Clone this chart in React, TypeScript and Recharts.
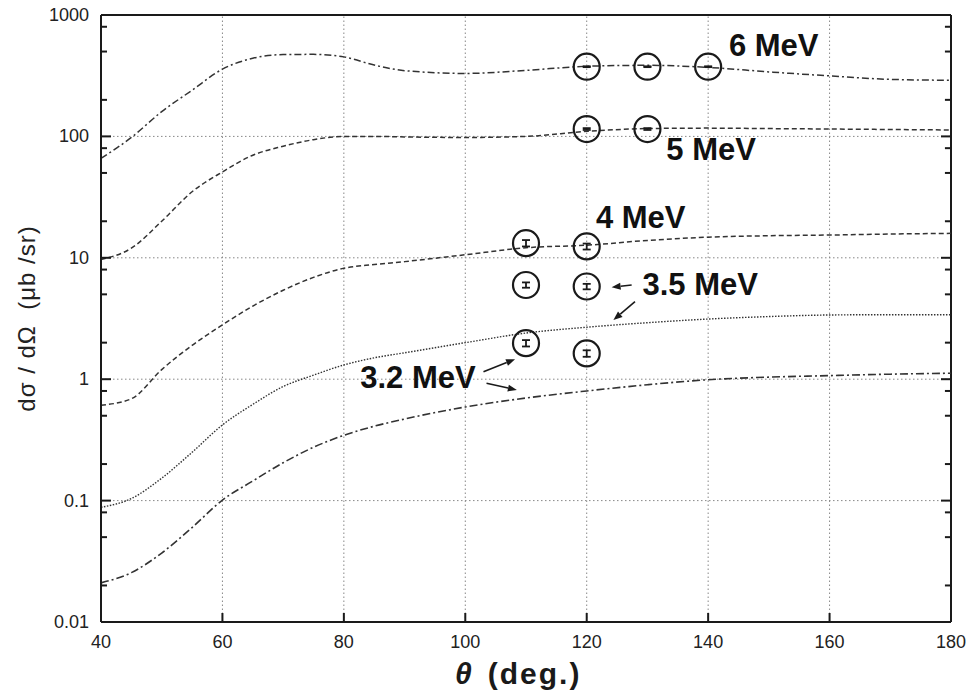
// Angular distributions dσ/dΩ vs θ at 3.2–6 MeV (log scale), with measured points.
import {
  ComposedChart, Line, Scatter, ErrorBar, XAxis, YAxis, ReferenceLine, ReferenceDot,
} from "recharts";

const THETA = [40, 45, 50, 55, 60, 65, 70, 75, 80, 85, 90, 100, 110, 120, 130, 140, 150, 160, 170, 180];
const E6 = [66, 98, 160, 240, 358, 440, 472, 474, 452, 387, 348, 330, 350, 378, 385, 370, 340, 315, 295, 290];
const E5 = [9.7, 12, 20, 35, 51, 70, 83, 94, 100, 100, 99, 98, 100, 110, 116, 117, 116, 115, 114, 113];
const E4 = [0.61, 0.69, 1.2, 1.9, 2.8, 4.0, 5.4, 6.9, 8.2, 8.8, 9.3, 10.6, 12.1, 12.7, 13.9, 14.8, 15.2, 15.4, 15.7, 15.9];
const E35 = [0.088, 0.104, 0.153, 0.25, 0.42, 0.62, 0.87, 1.08, 1.31, 1.5, 1.65, 2.0, 2.4, 2.68, 2.92, 3.13, 3.28, 3.38, 3.4, 3.4];
const E32 = [0.021, 0.0255, 0.037, 0.06, 0.101, 0.145, 0.205, 0.275, 0.345, 0.41, 0.47, 0.59, 0.7, 0.8, 0.9, 0.99, 1.04, 1.07, 1.1, 1.12];

// measured points (θ, value, error)
const P6_X = [120, 130, 140];
const P6_Y = [375, 375, 375];
const P6_E = [3, 3, 3];
const P5_X = [120, 130];
const P5_Y = [115, 115];
const P5_E = [2, 2];
const P4_X = [110, 120];
const P4_Y = [13.2, 12.4];
const P4_E = [0.8, 0.7];
const P35_X = [110, 120];
const P35_Y = [5.97, 5.8];
const P35_E = [0.3, 0.3];
const P32_X = [110, 120];
const P32_Y = [1.98, 1.63];
const P32_E = [0.12, 0.1];

const X_TICKS = [40, 60, 80, 100, 120, 140, 160, 180];
const DECADES = [0.01, 0.1, 1, 10, 100, 1000];
const MINOR = [0.02, 0.05, 0.08, 0.2, 0.5, 0.8, 2, 5, 8, 20, 50, 80, 200, 500, 800];
const Y_TICKS = [...DECADES, ...MINOR].sort((a, b) => a - b);

// energy labels: text, θ, value
const LABELS: [string, number, number][] = [
  ["6 MeV", 150.8, 566],
  ["5 MeV", 140.5, 77.3],
  ["4 MeV", 128.9, 21.3],
  ["3.5 MeV", 138.7, 5.97],
  ["3.2 MeV", 92.2, 1.04],
];
// arrows: from (θ, v) to (θ, v)
const ARROWS: [number, number, number, number][] = [
  [127.4, 5.97, 124.1, 5.71],
  [127.95, 4.35, 124.4, 3.07],
  [103.0, 1.153, 108.2, 1.458],
  [103.5, 0.925, 108.5, 0.815],
];

const rows = THETA.map((t, i) => ({ t, e6: E6[i], e5: E5[i], e4: E4[i], e35: E35[i], e32: E32[i] }));
const pts = (xs: number[], ys: number[], es: number[]) => xs.map((x, i) => ({ t: x, v: ys[i], err: es[i] }));

const FONT = "'Liberation Sans', Arial, Helvetica, sans-serif";
const INK = "#1a1a1a";

const LeftTick = ({ x, y, payload }: any) => {
  const major = DECADES.includes(payload.value);
  return (
    <g>
      <line x1={x} x2={x + (major ? 10 : 6)} y1={y} y2={y} stroke={INK} strokeWidth={2} />
      {major && (
        <text x={x - 12} y={y} textAnchor="end" dominantBaseline="central" fontSize={18} fill="#222" fontFamily={FONT}>
          {String(payload.value)}
        </text>
      )}
    </g>
  );
};
const BottomTick = ({ x, y, payload }: any) => (
  <g>
    <line x1={x} x2={x} y1={y} y2={y - 9} stroke={INK} strokeWidth={2} />
    <text x={x} y={y + 26} textAnchor="middle" fontSize={18} fill="#222" fontFamily={FONT}>{payload.value}</text>
  </g>
);
const TopTick = ({ x, y }: any) => <line x1={x} x2={x} y1={y} y2={y + 9} stroke={INK} strokeWidth={2} />;

const Ring = ({ cx, cy }: any) => <circle cx={cx} cy={cy} r={13} fill="none" stroke={INK} strokeWidth={2.2} />;

const Arrow = ({ x1, y1, x2, y2 }: any) => {
  const a = Math.atan2(y2 - y1, x2 - x1);
  const L = 9, W = 3.5;
  const bx = x2 - L * Math.cos(a), by = y2 - L * Math.sin(a);
  const p = `${x2},${y2} ${bx + W * Math.sin(a)},${by - W * Math.cos(a)} ${bx - W * Math.sin(a)},${by + W * Math.cos(a)}`;
  return (
    <g>
      <line x1={x1} y1={y1} x2={bx} y2={by} stroke={INK} strokeWidth={1.6} />
      <polygon points={p} fill={INK} />
    </g>
  );
};

const grid = { stroke: "#888", strokeDasharray: "1.5 2.5", strokeWidth: 1 };
const frame = { stroke: INK, strokeWidth: 2 };

export default function App() {
  return (
    <div style={{ position: "absolute", left: 0, top: 0 }}>
      <ComposedChart width={970} height={694} data={rows} margin={{ top: 15, right: 19, bottom: 0, left: 0 }}
        style={{ fontFamily: FONT, background: "#fff" }}>
        <XAxis dataKey="t" type="number" domain={[40, 180]} ticks={X_TICKS} interval={0} height={72}
          tickLine={false} tickSize={0} tickMargin={0} tick={BottomTick} axisLine={frame}
          label={{
            content: (p: any) => {
              const vb = p.viewBox;
              return (
                <text x={vb.x + vb.width / 2 - 71} y={vb.y + 62} textAnchor="start" fontSize={30}
                  fontWeight="bold" fill={INK} fontFamily={FONT} letterSpacing={2}>
                  <tspan fontStyle="italic">θ</tspan>
                  <tspan dx={14}>(deg.)</tspan>
                </text>
              );
            },
          }} />
        <XAxis xAxisId="t" orientation="top" dataKey="t" type="number" domain={[40, 180]} ticks={X_TICKS} interval={0}
          height={0} tickLine={false} tickSize={0} tickMargin={0} tick={TopTick} axisLine={false} />
        <YAxis type="number" scale="log" domain={[0.01, 1000]} allowDataOverflow ticks={Y_TICKS} interval={0} width={101}
          tickLine={false} tickSize={0} tickMargin={0} tick={LeftTick} axisLine={frame}
          label={{
            content: (p: any) => {
              const vb = p.viewBox;
              const cx = vb.x + 26, cy = vb.y + vb.height / 2;
              return (
                <text x={cx} y={cy} transform={`rotate(-90 ${cx} ${cy})`} textAnchor="middle" dominantBaseline="central"
                  fontSize={24} fill="#222" fontFamily={FONT} letterSpacing={1} xmlSpace="preserve">
                  {"dσ / dΩ  (μb /sr)"}
                </text>
              );
            },
          }} />

        {DECADES.slice(1, -1).map((v) => <ReferenceLine key={`gy${v}`} y={v} {...grid} />)}
        {X_TICKS.slice(1, -1).map((v) => <ReferenceLine key={`gx${v}`} x={v} {...grid} />)}
        <ReferenceLine y={1000} {...frame} />
        <ReferenceLine x={180} {...frame} />
        {Y_TICKS.map((v) => (
          <ReferenceLine key={`rt${v}`} segment={[{ x: DECADES.includes(v) ? 178.35 : 179.0, y: v }, { x: 180, y: v }]} {...frame} />
        ))}

        <Line dataKey="e6" type="monotone" dot={false} stroke="#333" strokeWidth={1.5} strokeDasharray="7 3 2 3" isAnimationActive={false} />
        <Line dataKey="e5" type="monotone" dot={false} stroke="#333" strokeWidth={1.5} strokeDasharray="5 3" isAnimationActive={false} />
        <Line dataKey="e4" type="monotone" dot={false} stroke="#333" strokeWidth={1.5} strokeDasharray="5 3" isAnimationActive={false} />
        <Line dataKey="e35" type="monotone" dot={false} stroke="#333" strokeWidth={1.4} strokeDasharray="1.5 1.5" isAnimationActive={false} />
        <Line dataKey="e32" type="monotone" dot={false} stroke="#333" strokeWidth={1.6} strokeDasharray="8 3 2 3" isAnimationActive={false} />

        {[
          pts(P6_X, P6_Y, P6_E), pts(P5_X, P5_Y, P5_E), pts(P4_X, P4_Y, P4_E),
          pts(P35_X, P35_Y, P35_E), pts(P32_X, P32_Y, P32_E),
        ].map((d, i) => (
          <Scatter key={`s${i}`} data={d} dataKey="v" shape={Ring} isAnimationActive={false}>
            <ErrorBar dataKey="err" direction="y" width={4} stroke={INK} strokeWidth={1.8} />
          </Scatter>
        ))}

        {ARROWS.map(([ax, ay, bx, by], i) => (
          <ReferenceLine key={`a${i}`} segment={[{ x: ax, y: ay }, { x: bx, y: by }]} shape={Arrow} />
        ))}
        {LABELS.map(([txt, x, y]) => (
          <ReferenceDot key={txt} x={x} y={y} r={0}
            shape={(p: any) => (
              <text x={p.cx} y={p.cy} textAnchor="middle" dominantBaseline="central" fontSize={31} fontWeight="bold"
                fill="#111" fontFamily={FONT}>
                {txt}
              </text>
            )} />
        ))}
      </ComposedChart>
    </div>
  );
}
